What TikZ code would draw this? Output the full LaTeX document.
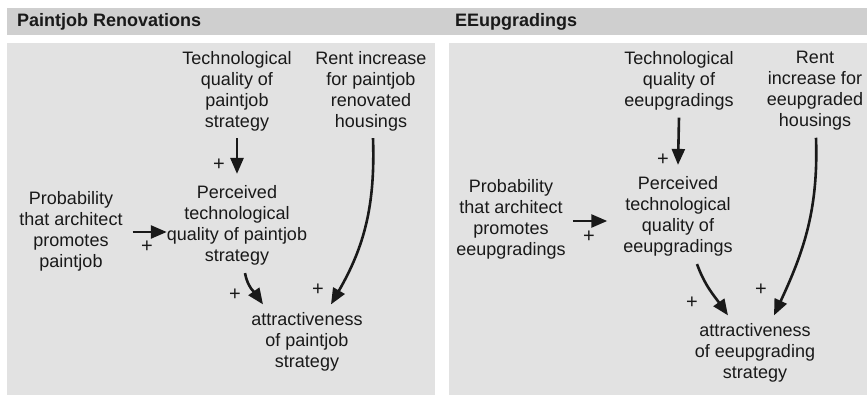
\documentclass[tikz,border=0pt]{standalone}
\usepackage{fontspec}
\setmainfont{Liberation Sans}
\usetikzlibrary{arrows.meta,calc}
\definecolor{headgray}{RGB}{207,207,207}
\definecolor{panelgray}{RGB}{226,226,226}
\begin{document}
\begin{tikzpicture}[x=1pt,y=-1pt,
  label/.style={font=\fontsize{18}{21}\selectfont, align=center, inner sep=0pt, text=black!90},
  headtext/.style={font=\fontsize{18}{21}\selectfont\bfseries, anchor=west, inner sep=0pt, text=black!90},
  sign/.style={font=\fontsize{20}{20}\selectfont, inner sep=0pt, text=black!90},
  link/.style={line width=2.6pt, -{Triangle[length=16pt,width=13pt]}, black!90}]
\useasboundingbox (0,0) rectangle (867,395);

% header band and the two panels
\fill[headgray] (7,8) rectangle (867,35);
\fill[panelgray] (7,43) rectangle (435,395);
\fill[panelgray] (449,43) rectangle (867,395);
\node[headtext] (h1) at (17,22) {Paintjob Renovations};
\node[headtext] (h2) at (455,22) {EEupgradings};

% ---------- paintjob renovations ----------
\node[label] (tech1) at (237,91) {Technological\\quality of\\paintjob\\strategy};
\node[label] (rent1) at (371,91) {Rent increase\\for paintjob\\renovated\\housings};
\node[label] (perc1) at (237,225) {Perceived\\technological\\quality of paintjob\\strategy};
\node[label] (prob1) at (71,231.5) {Probability\\that architect\\promotes\\paintjob};
\node[label] (attr1) at (307,342) {attractiveness\\of paintjob\\strategy};

\draw[link] ([yshift=-7pt]tech1.south) -- ([yshift=11pt]perc1.north);
\draw[link] ([xshift=10pt]prob1.east |- 0,232) -- ([xshift=0pt]perc1.west |- 0,232);
\draw[link] ([xshift=8pt,yshift=-8pt]perc1.south) to[out=-80,in=125] ([xshift=-44pt,yshift=8pt]attr1.north);
\draw[link] ([xshift=2pt,yshift=-7pt]rent1.south) to[out=-88,in=60] ([xshift=24pt,yshift=8pt]attr1.north);

\node[sign] (p1a) at (219,165) {+};
\node[sign] (p1b) at (147,247) {+};
\node[sign] (p1c) at (235,295) {+};
\node[sign] (p1d) at (318,290) {+};

% ---------- EE upgradings ----------
\node[label] (tech2) at (679,81) {Technological\\quality of\\eeupgradings};
\node[label] (rent2) at (815,91) {Rent\\increase for\\eeupgraded\\housings};
\node[label] (perc2) at (678,216) {Perceived\\technological\\quality of\\eeupgradings};
\node[label] (prob2) at (511,219) {Probability\\that architect\\promotes\\eeupgradings};
\node[label] (attr2) at (755,353) {attractiveness\\of eeupgrading\\strategy};

\draw[link] ([yshift=-7pt]tech2.south) -- ([yshift=11pt]perc2.north);
\draw[link] ([xshift=7pt]prob2.east |- 0,221) -- ([xshift=-16pt]perc2.west |- 0,221);
\draw[link] ([xshift=19pt,yshift=-8pt]perc2.south) to[out=-70,in=125] ([xshift=-27pt,yshift=8pt]attr2.north);
\draw[link] ([xshift=1pt,yshift=-7pt]rent2.south) to[out=-88,in=65] ([xshift=19pt,yshift=8pt]attr2.north);

\node[sign] (p2a) at (663,160) {+};
\node[sign] (p2b) at (589,237) {+};
\node[sign] (p2c) at (692,303) {+};
\node[sign] (p2d) at (761,290) {+};
\end{tikzpicture}
\end{document}
